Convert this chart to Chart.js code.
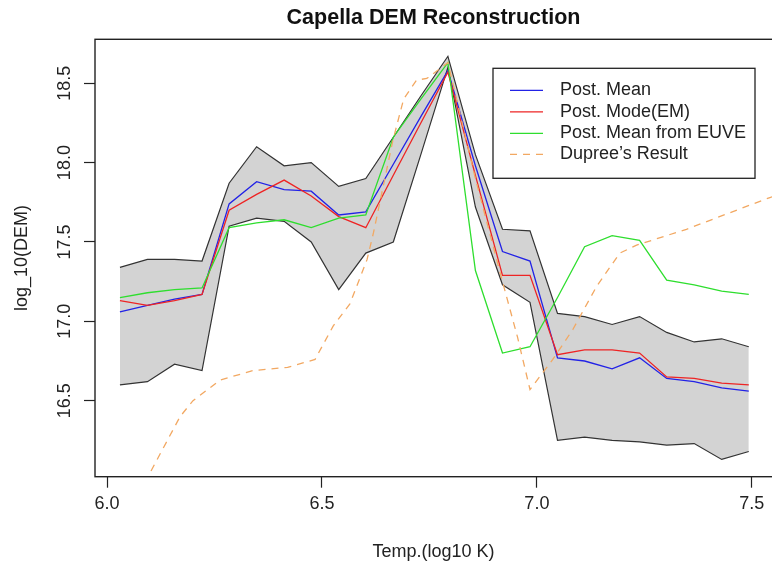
<!DOCTYPE html>
<html>
<head>
<meta charset="utf-8">
<script src="https://cdn.jsdelivr.net/npm/chart.js@4.4.1/dist/chart.umd.min.js"></script>
<style>
  html, body { margin: 0; padding: 0; background: #fff; }
</style>
</head>
<body>
<canvas id="stage" width="772" height="565"></canvas>
<script>
// 温度ビン (log10 K)
const temps = [6.030, 6.094, 6.157, 6.221, 6.284, 6.348, 6.412, 6.475, 6.539, 6.602, 6.666, 6.730,
               6.793, 6.857, 6.920, 6.984, 7.048, 7.111, 7.175, 7.239, 7.302, 7.366, 7.430, 7.493];

const postMean = [17.06, 17.10, 17.14, 17.17, 17.74, 17.88, 17.83, 17.82, 17.67, 17.69, 17.99, 18.29,
                  18.58, 17.98, 17.44, 17.38, 16.77, 16.75, 16.70, 16.77, 16.64, 16.62, 16.58, 16.56];
const postMode = [17.13, 17.10, 17.13, 17.17, 17.70, 17.80, 17.89, 17.79, 17.66, 17.59, 17.92, 18.25,
                  18.57, 17.92, 17.29, 17.29, 16.79, 16.82, 16.82, 16.80, 16.65, 16.64, 16.61, 16.60];
const euveMean = [17.15, 17.18, 17.20, 17.21, 17.59, 17.62, 17.64, 17.59, 17.65, 17.67, 18.16, 18.40,
                  18.63, 17.32, 16.80, 16.84, 17.15, 17.47, 17.54, 17.51, 17.26, 17.23, 17.19, 17.17];

// 事後分布の帯 (上限・下限)
const bandUpper = [17.34, 17.39, 17.39, 17.38, 17.87, 18.10, 17.98, 18.00, 17.85, 17.90, 18.16, 18.42,
                   18.67, 18.05, 17.58, 17.57, 17.05, 17.03, 16.98, 17.03, 16.93, 16.87, 16.89, 16.84];
const bandLower = [16.60, 16.62, 16.73, 16.69, 17.60, 17.65, 17.63, 17.50, 17.20, 17.43, 17.50, 18.05,
                   18.60, 17.72, 17.23, 17.12, 16.25, 16.27, 16.25, 16.24, 16.22, 16.23, 16.13, 16.18];

// Dupree
const dupreeT   = [6.060, 6.095, 6.170, 6.200, 6.263, 6.340, 6.420, 6.484, 6.526, 6.565, 6.605, 6.620,
                   6.665, 6.690, 6.720, 6.744, 6.793, 6.857, 6.920, 6.955, 6.984, 7.037, 7.084, 7.139,
                   7.193, 7.232, 7.348, 7.542, 7.600];
const dupreeDem = [15.84, 16.02, 16.40, 16.50, 16.63, 16.69, 16.71, 16.76, 16.97, 17.11, 17.39, 17.56,
                   18.14, 18.40, 18.52, 18.53, 18.63, 17.90, 17.25, 16.90, 16.57, 16.76, 16.95, 17.22,
                   17.43, 17.48, 17.58, 17.78, 17.83];

const xTicks = [6.0, 6.5, 7.0, 7.5];
const yTicks = [16.5, 17.0, 17.5, 18.0, 18.5];
const seriesNames = ['Post. Mean', 'Post. Mode(EM)', 'Post. Mean from EUVE', 'Dupree’s Result'];

const family = '"Liberation Sans", Arial, sans-serif';
const ink = '#222';

function pts(xs, ys) {
  return xs.map((x, i) => ({ x: x, y: ys[i] }));
}

// 枠・y目盛りラベル・凡例
const extras = {
  id: 'extras',
  afterDraw(chart) {
    const ctx = chart.ctx;
    const ca = chart.chartArea;
    const ys = chart.scales.y;

    ctx.save();
    ctx.strokeStyle = ink;
    ctx.lineWidth = 1.4;
    ctx.strokeRect(ca.left, ca.top, ca.right - ca.left + 10, ca.bottom - ca.top);

    ctx.font = '18px ' + family;
    ctx.fillStyle = ink;
    ctx.textAlign = 'center';
    ctx.textBaseline = 'middle';
    yTicks.forEach(v => {
      ctx.save();
      ctx.translate(ys.right - 30, ys.getPixelForValue(v));
      ctx.rotate(-Math.PI / 2);
      ctx.fillText(v.toFixed(1), 0, 0);
      ctx.restore();
    });

    // 凡例
    const lx = ca.right - 279, ly = ca.top + 29;
    const lw = 262, lh = 110;
    ctx.fillStyle = '#fff';
    ctx.fillRect(lx, ly, lw, lh);
    ctx.lineWidth = 1.3;
    ctx.strokeStyle = ink;
    ctx.strokeRect(lx, ly, lw, lh);
    const rows = [22, 43.5, 65, 86];
    const ds = chart.data.datasets;
    rows.forEach((r, i) => {
      const d = ds[i];
      ctx.beginPath();
      ctx.strokeStyle = d.borderColor;
      ctx.lineWidth = d.borderWidth;
      ctx.setLineDash(d.borderDash || []);
      ctx.moveTo(lx + 17, ly + r);
      ctx.lineTo(lx + 50, ly + r);
      ctx.stroke();
      ctx.setLineDash([]);
      ctx.fillStyle = ink;
      ctx.textAlign = 'left';
      ctx.fillText(d.label, lx + 67, ly + r);
    });
    ctx.restore();
  }
};

new Chart(document.getElementById('stage'), {
  type: 'line',
  data: {
    datasets: [
      { label: seriesNames[0], data: pts(temps, postMean), borderColor: '#2222e6', borderWidth: 1.3, order: 4 },
      { label: seriesNames[1], data: pts(temps, postMode), borderColor: '#ee2424', borderWidth: 1.3, order: 3 },
      { label: seriesNames[2], data: pts(temps, euveMean), borderColor: '#2ede2e', borderWidth: 1.3, order: 2 },
      { label: seriesNames[3], data: pts(dupreeT, dupreeDem), borderColor: '#f2a862', borderWidth: 1.3,
        borderDash: [7, 6], order: 1 },
      { label: 'upper', data: pts(temps, bandUpper), borderColor: '#333', borderWidth: 1.2,
        backgroundColor: '#d3d3d3', fill: '+1', order: 10 },
      { label: 'lower', data: pts(temps, bandLower), borderColor: '#333', borderWidth: 1.2,
        fill: false, order: 11 }
    ]
  },
  options: {
    responsive: false,
    animation: false,
    devicePixelRatio: 1,
    elements: { point: { radius: 0 }, line: { tension: 0 } },
    layout: { padding: 0 },
    plugins: {
      legend: { display: false },
      tooltip: { enabled: false },
      filler: { drawTime: 'beforeDatasetsDraw' },
      title: {
        display: true,
        fullSize: false,
        text: 'Capella DEM Reconstruction',
        color: '#111',
        font: { size: 21.5, weight: 'bold', family: family },
        padding: { top: 5, bottom: 8.5 }
      }
    },
    scales: {
      x: {
        type: 'linear',
        min: 5.972,
        max: 7.547,
        afterBuildTicks: s => { s.ticks = xTicks.map(v => ({ value: v })); },
        afterFit: s => { s.height = 88.3; },
        grid: { drawOnChartArea: false, drawTicks: true, tickLength: 11, tickColor: ink, tickWidth: 1.2 },
        border: { display: false },
        ticks: { color: ink, font: { size: 18, family: family }, padding: 6, maxRotation: 0, autoSkip: false,
                 callback: v => Number(v).toFixed(1) },
        title: { display: true, text: 'Temp.(log10 K)', color: ink, font: { size: 18, family: family },
                 padding: { top: 4, bottom: 2 } }
      },
      y: {
        type: 'linear',
        min: 16.021,
        max: 18.777,
        afterBuildTicks: s => { s.ticks = yTicks.map(v => ({ value: v })); },
        afterFit: s => { s.width = 95; },
        grid: { drawOnChartArea: false, drawTicks: true, tickLength: 11, tickColor: ink, tickWidth: 1.2 },
        border: { display: false },
        ticks: { display: false },
        title: { display: true, text: 'log_10(DEM)', color: ink, font: { size: 18, family: family },
                 padding: { top: 11, bottom: 0 } }
      }
    }
  },
  plugins: [extras]
});
</script>
</body>
</html>
